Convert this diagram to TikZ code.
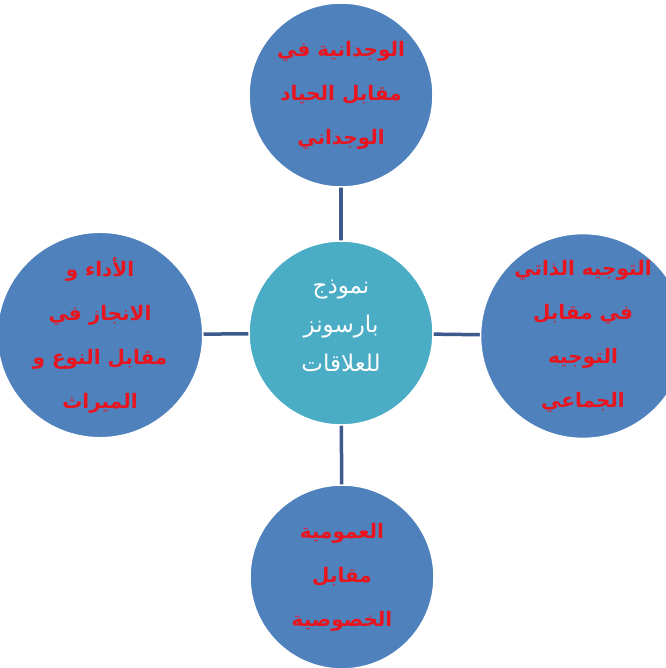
\documentclass[tikz,border=0pt]{standalone}
\usepackage{fontspec}
\TeXXeTstate=1
\newfontfamily\arabicfont[Script=Arabic]{DejaVu Sans}
\newcommand\rtl[1]{\beginR#1\endR}
\definecolor{outerblue}{RGB}{79,129,189}
\definecolor{hubaqua}{RGB}{75,172,198}
\definecolor{linkblue}{RGB}{60,90,140}
\definecolor{labelred}{RGB}{232,20,30}
\tikzset{
  x=1pt, y=-1pt,
  petal/.style={circle, minimum size=184pt, inner sep=0pt, fill=outerblue,
    draw=white, line width=1.5pt, align=center,
    font=\arabicfont\bfseries\fontsize{20}{44}\selectfont, text=labelred},
  hub/.style={circle, minimum size=184pt, inner sep=0pt, fill=hubaqua,
    draw=white, line width=1.5pt},
  hubtext/.style={align=center, text=white, yshift=7pt,
    font=\arabicfont\fontsize{23}{39}\selectfont},
  link/.style={draw=linkblue, line width=3.5pt}
}
\begin{document}
\begin{tikzpicture}
\useasboundingbox (0,0) rectangle (665,668);
\fill[white] (0,0) rectangle (665,668);
% spokes first, so the circles sit on top of them
\coordinate (hc) at (341,333);
\coordinate (tc) at (341,95);
\coordinate (lc) at (100,335);
\coordinate (rc) at (583,336);
\coordinate (bc) at (342,577);
\draw[link] (hc) -- (tc);
\draw[link] (hc) -- (lc);
\draw[link] (hc) -- (rc);
\draw[link] (hc) -- (bc);
% the five circles
\node[hub, label={[hubtext]center:{\rtl{نموذج}\\\rtl{بارسونز}\\\rtl{للعلاقات}}}] (hub) at (hc) {};
\node[petal] (top) at (tc) {\rtl{الوجدانية في}\\\rtl{مقابل الحياد}\\\rtl{الوجداني}};
\node[petal] (left) at (lc) {\rtl{الأداء و}\\\rtl{الانجاز في}\\\rtl{مقابل النوع و}\\\rtl{الميراث}};
\node[petal] (right) at (rc) {\rtl{التوجيه الذاتي}\\\rtl{في مقابل}\\\rtl{التوجيه}\\\rtl{الجماعي}};
\node[petal] (bottom) at (bc) {\rtl{العمومية}\\\rtl{مقابل}\\\rtl{الخصوصية}};
\end{tikzpicture}
\end{document}
